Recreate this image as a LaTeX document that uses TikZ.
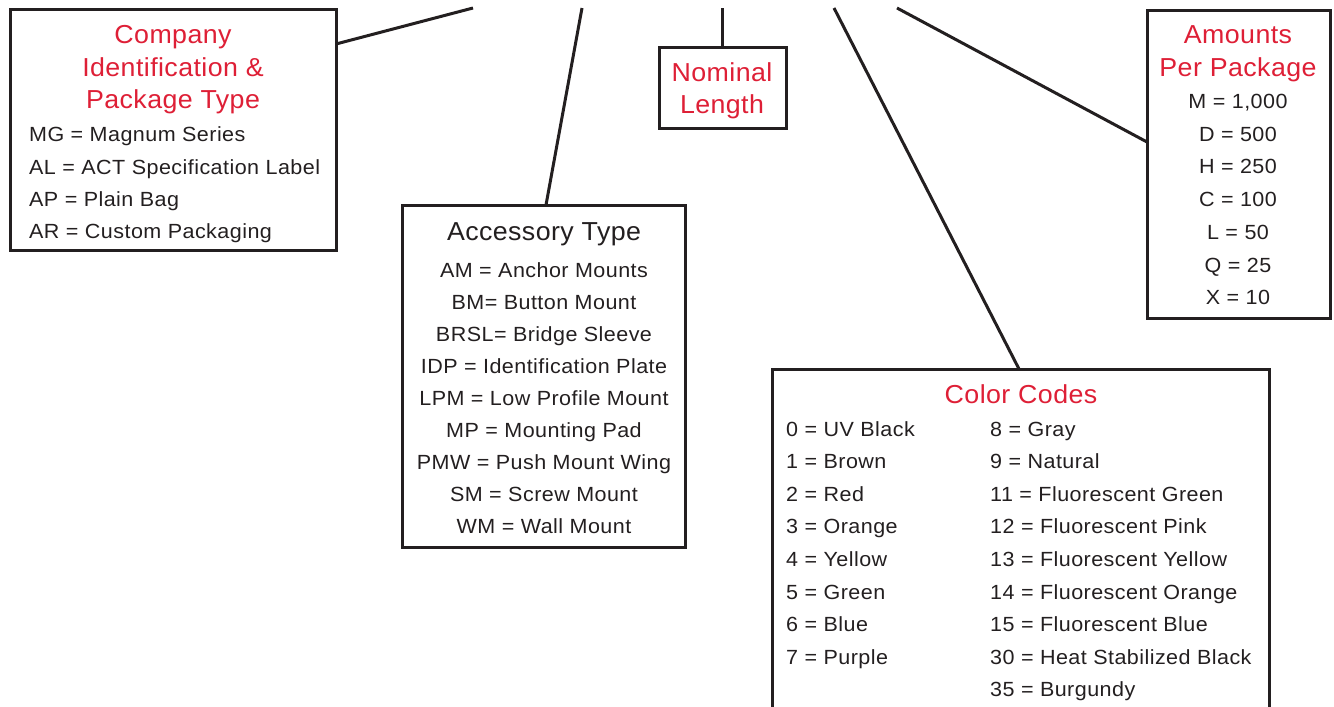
\documentclass[tikz,border=0pt]{standalone}
\usepackage{fontspec}
\setmainfont{Liberation Sans}
\usetikzlibrary{calc}
\definecolor{rojoCod}{HTML}{DE1F36}
\definecolor{tinta}{HTML}{231F20}

\tikzset{
  codebox/.style={draw=tinta,line width=3pt,inner sep=0pt,outer sep=0pt,rectangle},
  wire/.style={draw=tinta,line width=3pt},
  headR/.style={text=rojoCod,inner sep=0pt,
    font=\fontsize{26}{30}\selectfont\addfontfeature{FakeStretch=1.03,LetterSpace=1.6}},
  headK/.style={headR,text=tinta},
  entry/.style={text=tinta,inner sep=0pt,
    font=\fontsize{20.5}{24}\selectfont\addfontfeature{FakeStretch=1.05,LetterSpace=2.2}}
}

\begin{document}
\begin{tikzpicture}[x=1pt,y=-1pt]
  \useasboundingbox (0,0) rectangle (1334,707);
  \clip (0,0) rectangle (1334,707);
  % boxes
  \node[codebox,anchor=north west,minimum width=326,minimum height=241] (cid) at (10,9) {};
  \node[codebox,anchor=north west,minimum width=283,minimum height=342] (acc) at (402,205) {};
  \node[codebox,anchor=north west,minimum width=127,minimum height=81] (nom) at (659,47) {};
  \node[codebox,anchor=north west,minimum width=183,minimum height=308] (amt) at (1147,10) {};
  \node[codebox,anchor=north west,minimum width=497,minimum height=360] (col) at (772,369) {};
  % free ends at the top
  \coordinate (tA) at (473,8);
  \coordinate (tB) at (582,8);
  \coordinate (tC) at (nom.north |- {(0,8)});
  \coordinate (tD) at (834,8);
  \coordinate (tE) at (897,8);
  % leaders
  \draw[wire] ($(cid.north east)+(0,-35pt)$) -- (tA);
  \draw[wire] ($(acc.north)+(2.5pt,0)$) -- (tB);
  \draw[wire] (nom.north) -- (tC);
  \draw[wire] ($(col.north)+(-1.5pt,0)$) -- (tD);
  \draw[wire] ($(amt.north west)+(0,-132pt)$) -- (tE);
  % company identification
  \node[headR,anchor=base] (cidT1) at (173,43) {Company};
  \node[headR,anchor=base] (cidT2) at (173,76) {Identification \&};
  \node[headR,anchor=base] (cidT3) at (173,108) {Package Type};
  \foreach \yy/\txt [count=\i] in {141/MG = Magnum Series,174/AL = ACT Specification Label,
      206/AP = Plain Bag,238/AR = Custom Packaging}
    \node[entry,anchor=base west] (cid\i) at (29,\yy) {\txt};
  % accessory type
  \node[headK,anchor=base] (accT) at (544,240) {Accessory Type};
  \foreach \yy/\txt [count=\i] in {277/AM = Anchor Mounts,309/BM= Button Mount,
      341/BRSL= Bridge Sleeve,373/IDP = Identification Plate,405/LPM = Low Profile Mount,
      437/MP = Mounting Pad,469/PMW = Push Mount Wing,501/SM = Screw Mount,533/WM = Wall Mount}
    \node[entry,anchor=base] (acc\i) at (544,\yy) {\txt};
  % nominal length
  \node[headR,anchor=base] (nomT1) at (722,81) {Nominal};
  \node[headR,anchor=base] (nomT2) at (722,113) {Length};
  % amounts per package
  \node[headR,anchor=base] (amtT1) at (1238,43) {Amounts};
  \node[headR,anchor=base] (amtT2) at (1238,76) {Per Package};
  \foreach \yy/\txt [count=\i] in {108/{M = 1,000},141/D = 500,173/H = 250,206/C = 100,
      239/L = 50,272/Q = 25,304/X = 10}
    \node[entry,anchor=base] (amt\i) at (1238,\yy) {\txt};
  % color codes
  \node[headR,anchor=base] (colT) at (1021,403) {Color Codes};
  \foreach \yy/\txt [count=\i] in {436/0 = UV Black,468/1 = Brown,501/2 = Red,533/3 = Orange,
      566/4 = Yellow,599/5 = Green,631/6 = Blue,664/7 = Purple}
    \node[entry,anchor=base west] (colL\i) at (786,\yy) {\txt};
  \foreach \yy/\txt [count=\i] in {436/8 = Gray,468/9 = Natural,501/11 = Fluorescent Green,
      533/12 = Fluorescent Pink,566/13 = Fluorescent Yellow,599/14 = Fluorescent Orange,
      631/15 = Fluorescent Blue,664/30 = Heat Stabilized Black,696/35 = Burgundy}
    \node[entry,anchor=base west] (colR\i) at (990,\yy) {\txt};
\end{tikzpicture}
\end{document}
